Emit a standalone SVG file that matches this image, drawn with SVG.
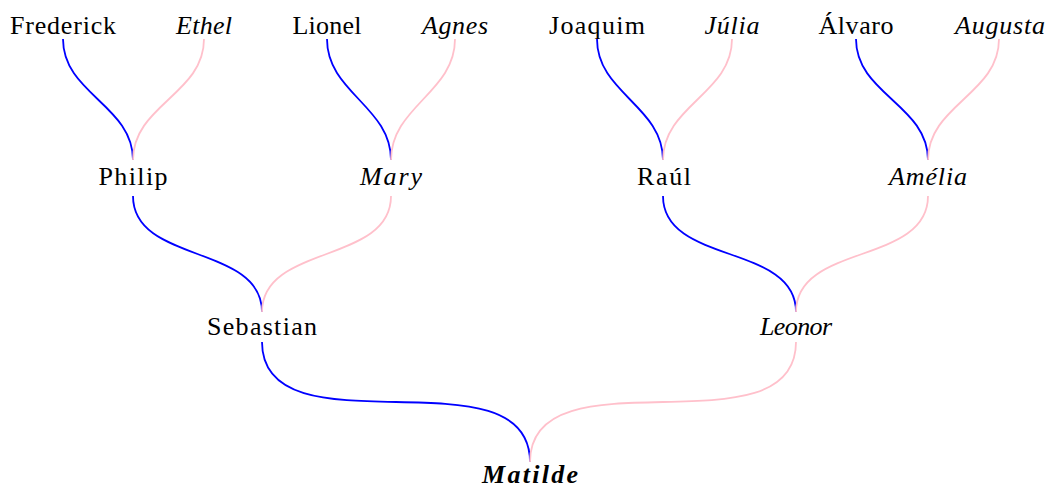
<svg xmlns="http://www.w3.org/2000/svg" width="1054" height="496" viewBox="0 0 1054 496">
<style>
text{font-family:"Liberation Serif","Times New Roman",serif;font-size:26px;fill:#000;text-anchor:middle}
.f{font-style:italic}
.b{font-weight:bold}
.m{fill:none;stroke:#0000ff;stroke-width:1.8}
.w{fill:none;stroke:#ffc0cb;stroke-width:1.8}
</style>
<rect width="1054" height="496" fill="#fff"/>
<g id="connectors">
<path class="m" d="M63,39 C63,93.7 133,105.3 133,160"/>
<path class="w" d="M204,39 C204,94 133,105 133,160"/>
<path class="m" d="M327,39 C327,92.5 391,106.5 391,160"/>
<path class="w" d="M455,39 C455,92.5 391,106.5 391,160"/>
<path class="m" d="M597,39 C597,93 663,106 663,160"/>
<path class="w" d="M732,39 C732,93.5 663,105.5 663,160"/>
<path class="m" d="M856,39 C856,94 928,105 928,160"/>
<path class="w" d="M999,39 C999,94 928,105 928,160"/>
<path class="m" d="M133,196 C133,264 262,244 262,312"/>
<path class="w" d="M391,196 C391,264 262,244 262,312"/>
<path class="m" d="M663,196 C663,265 796,243 796,312"/>
<path class="w" d="M928,196 C928,265 796,243 796,312"/>
<path class="m" d="M262,342 C262,457 530,347 530,462"/>
<path class="w" d="M796,342 C796,456.5 530,347.5 530,462"/>
</g>
<g id="frederick"><text x="63" y="34" textLength="106" lengthAdjust="spacing">Frederick</text></g>
<g id="ethel"><text class="f" x="204" y="34" textLength="56" lengthAdjust="spacing">Ethel</text></g>
<g id="lionel"><text x="327" y="34" textLength="69" lengthAdjust="spacing">Lionel</text></g>
<g id="agnes"><text class="f" x="455" y="34" textLength="66" lengthAdjust="spacing">Agnes</text></g>
<g id="joaquim"><text x="597" y="34" textLength="96" lengthAdjust="spacing">Joaquim</text></g>
<g id="julia"><text class="f" x="732" y="34" textLength="55" lengthAdjust="spacing">Júlia</text></g>
<g id="alvaro"><text x="856" y="34" textLength="75" lengthAdjust="spacing">Álvaro</text></g>
<g id="augusta"><text class="f" x="1000" y="34" textLength="90" lengthAdjust="spacing">Augusta</text></g>
<g id="philip"><text x="133" y="185" textLength="69" lengthAdjust="spacing">Philip</text></g>
<g id="mary"><text class="f" x="391" y="185" textLength="62" lengthAdjust="spacing">Mary</text></g>
<g id="raul"><text x="664" y="185" textLength="54" lengthAdjust="spacing">Raúl</text></g>
<g id="amelia"><text class="f" x="928" y="185" textLength="78" lengthAdjust="spacing">Amélia</text></g>
<g id="sebastian"><text x="262" y="335" textLength="110" lengthAdjust="spacing">Sebastian</text></g>
<g id="leonor"><text class="f" x="796" y="335" textLength="72" lengthAdjust="spacing">Leonor</text></g>
<g id="matilde"><text class="f b" x="530" y="483" textLength="96" lengthAdjust="spacing">Matilde</text></g>
</svg>
